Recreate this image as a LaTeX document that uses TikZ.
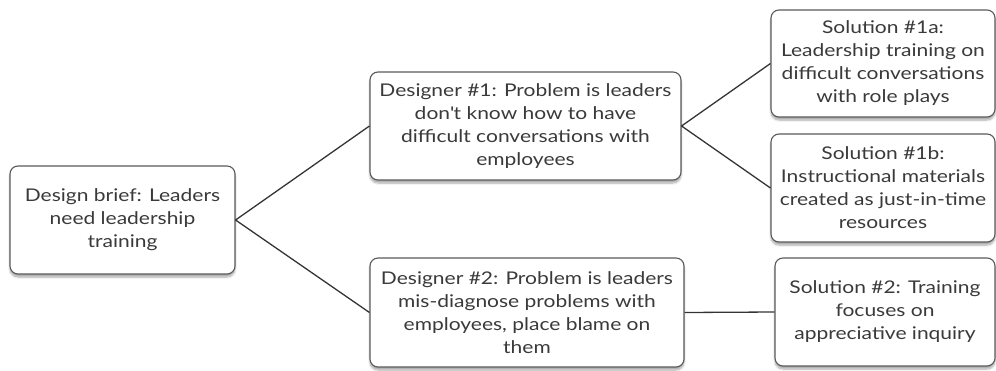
\documentclass[tikz,border=0pt]{standalone}
\usepackage{fontspec}
\setmainfont{Lato}[FakeStretch=1.2]
\usetikzlibrary{shadows.blur}
\definecolor{boxline}{HTML}{5A5A5A}
\definecolor{ink}{HTML}{3A3A3A}
\begin{document}
\begin{tikzpicture}[x=1pt,y=-1pt,
  box/.style={draw=boxline, line width=1.1pt, rounded corners=8pt, fill=white,
    align=center, text=ink, inner sep=0pt, font=\fontsize{17.5}{23}\selectfont,
    blur shadow={shadow xshift=0pt, shadow yshift=-3pt, shadow blur steps=6, shadow opacity=35}},
  link/.style={draw=ink!90!black, line width=1.3pt}]
\useasboundingbox (0,0) rectangle (996,370);
% root brief
\node[box, minimum width=225pt, minimum height=108pt] (brief) at (122.5,220)
  {Design brief: Leaders\\need leadership\\training};
% two designers' problem statements
\node[box, minimum width=311pt, minimum height=108pt] (d1) at (525.5,126)
  {Designer \#1: Problem is leaders\\don\textquotesingle t know how to have\\difficult conversations with\\employees};
\node[box, minimum width=314pt, minimum height=109pt] (d2) at (527,312.5)
  {Designer \#2: Problem is leaders\\mis-diagnose problems with\\employees, place blame on\\them};
% solutions
\node[box, minimum width=224pt, minimum height=107pt] (s1a) at (883,63.5)
  {Solution \#1a:\\Leadership training on\\difficult conversations\\with role plays};
\node[box, minimum width=224pt, minimum height=108pt] (s1b) at (883,188)
  {Solution \#1b:\\Instructional materials\\created as just-in-time\\resources};
\node[box, minimum width=220pt, minimum height=108pt] (s2) at (885,312)
  {Solution \#2: Training\\focuses on\\appreciative inquiry};
% connectors
\draw[link] (brief.east) -- (d1.west);
\draw[link] (brief.east) -- (d2.west);
\draw[link] (d1.east) -- (s1a.west);
\draw[link] (d1.east) -- (s1b.west);
\draw[link] (d2.east) -- (s2.west);
\end{tikzpicture}
\end{document}
